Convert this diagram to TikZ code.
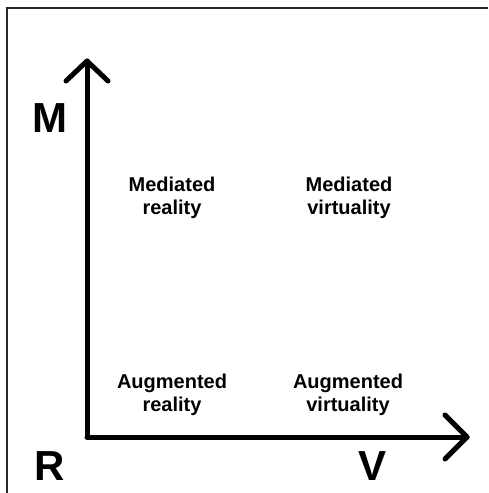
\documentclass[tikz,border=0pt]{standalone}
\usepackage{fontspec}
\setmainfont{Liberation Sans}
\begin{document}
\begin{tikzpicture}[x=1pt,y=-1pt,
  axis/.style={line width=5pt,line cap=round,line join=round},
  quad/.style={font=\bfseries\fontsize{20}{23}\selectfont,align=center,inner sep=0pt},
  big/.style={font=\bfseries\fontsize{42}{42}\selectfont,inner sep=0pt}]
\useasboundingbox (0,0) rectangle (488,493);
\fill[white] (0,0) rectangle (488,493);
\draw[line width=2pt,black!85] (7,493) -- (7,8) -- (488,8);
\coordinate (O) at (87,437);
\coordinate (Mtip) at (87,61);
\coordinate (Vtip) at (467,437);
\draw[axis] (O) -- (Mtip);
\draw[axis] (O) -- (Vtip);
\draw[axis] ([shift={(-21,20)}]Mtip) -- (Mtip) -- ([shift={(21,20)}]Mtip);
\draw[axis] ([shift={(-22,-22)}]Vtip) -- (Vtip) -- ([shift={(-22,22)}]Vtip);
\node[big] (M) at (50,118) {M};
\node[big] (R) at (50,466) {R};
\node[big] (V) at (373,466) {V};
\node[quad] (mr) at (172,198) {Mediated\\reality};
\node[quad] (mv) at (349,198) {Mediated\\virtuality};
\node[quad] (ar) at (172,395) {Augmented\\reality};
\node[quad] (av) at (348,395) {Augmented\\virtuality};
\end{tikzpicture}
\end{document}
